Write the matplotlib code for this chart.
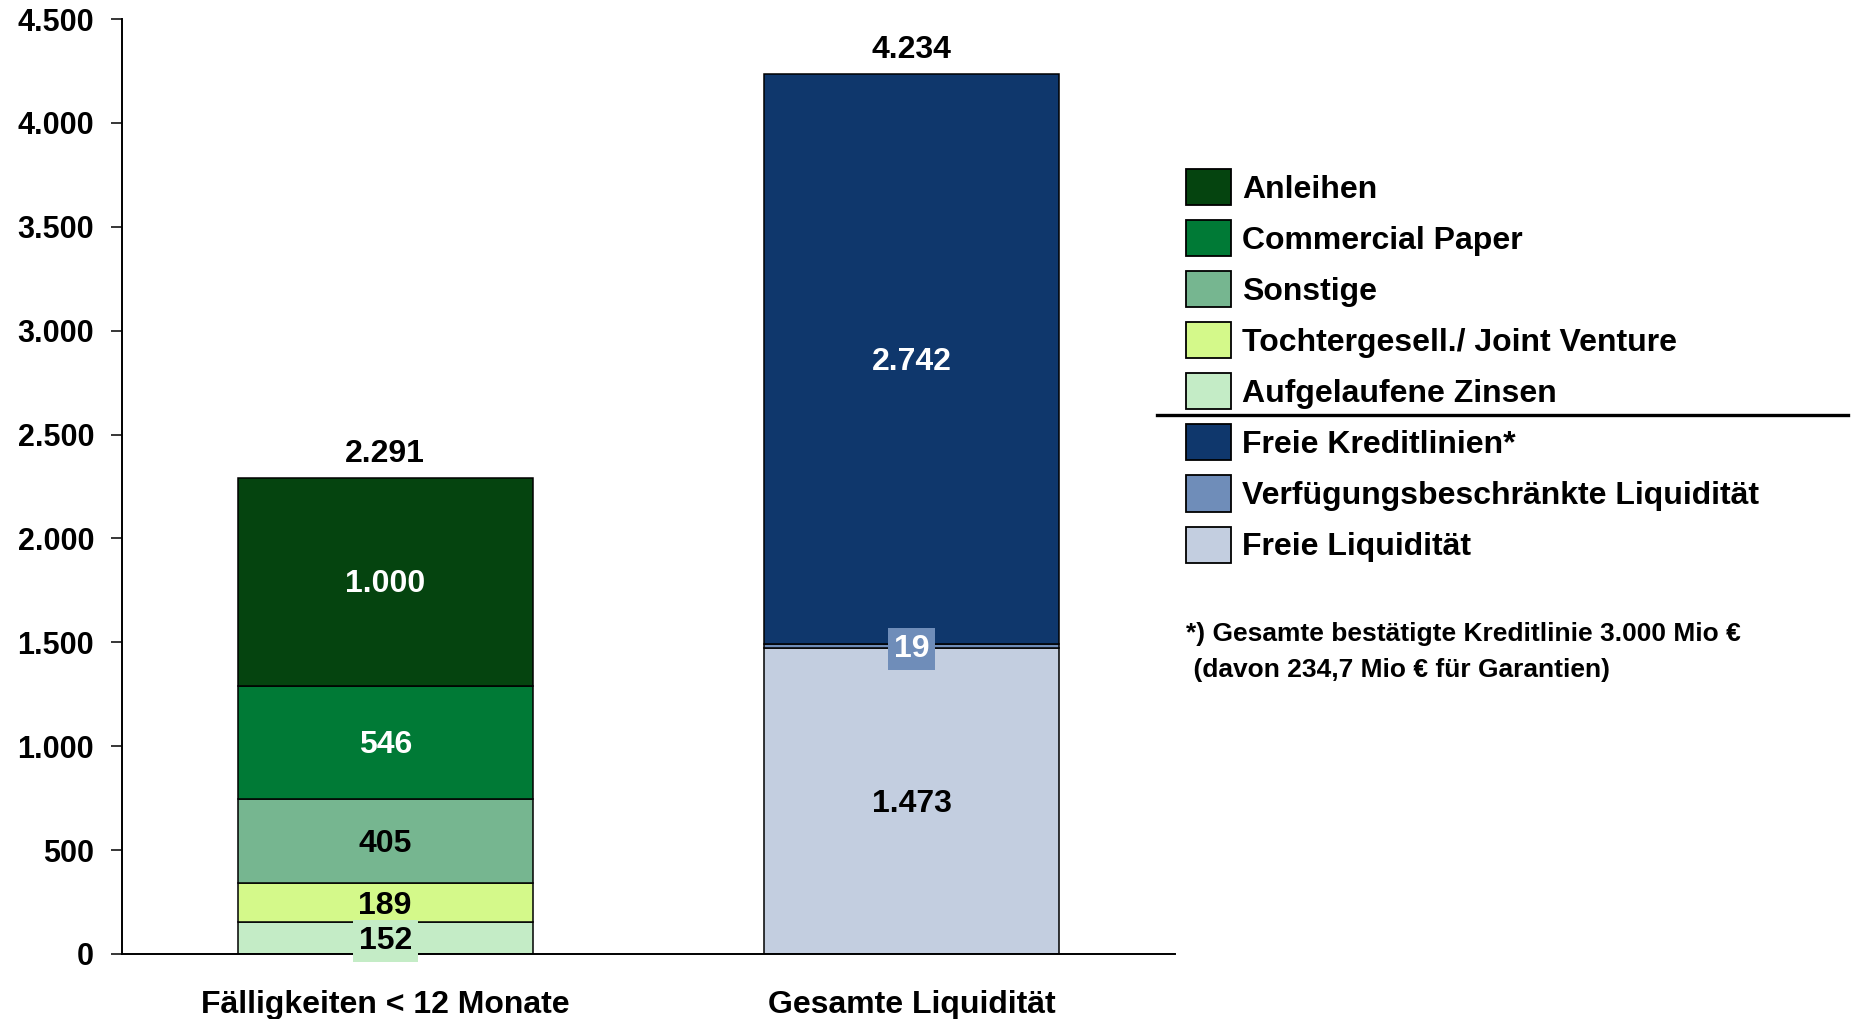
import matplotlib.pyplot as plt
from matplotlib.patches import Patch
from matplotlib.lines import Line2D

plt.rcParams['font.family'] = ['Liberation Sans', 'DejaVu Sans']
plt.rcParams['font.weight'] = 'bold'

# Data (Mio €)
categories = ['Fälligkeiten < 12 Monate', 'Gesamte Liquidität']
totals = [2291, 4234]

maturity_labels = ['Aufgelaufene Zinsen', 'Tochtergesell./ Joint Venture', 'Sonstige',
                   'Commercial Paper', 'Anleihen']
maturity_values = [152, 189, 405, 546, 1000]
maturity_colors = ['#c4ecc6', '#d4f98a', '#76b690', '#007a36', '#05440f']
maturity_text = ['black', 'black', 'black', 'white', 'white']

liquidity_labels = ['Freie Liquidität', 'Verfügungsbeschränkte Liquidität', 'Freie Kreditlinien*']
liquidity_values = [1473, 19, 2742]
liquidity_colors = ['#c3cee0', '#6f8db9', '#0f376c']
liquidity_text = ['black', 'white', 'white']

# segments that get a filled label box
boxed = {152, 19}

yticks = [0, 500, 1000, 1500, 2000, 2500, 3000, 3500, 4000, 4500]


def de_fmt(v):
    return f'{v:,}'.replace(',', '.')


fig = plt.figure(figsize=(18.56, 10.19), dpi=100)
ax = fig.add_axes([0.0657, 0.0638, 0.5673, 0.9175])

width = 0.56


def draw_stack(x, values, colors, txtcolors):
    bottom = 0
    for v, c, tc in zip(values, colors, txtcolors):
        ax.bar(x, v, width, bottom=bottom, color=c, edgecolor='black', linewidth=1.1)
        kw = {}
        if v in boxed:
            kw['bbox'] = dict(boxstyle='square,pad=0.18', facecolor=c, edgecolor='none')
        ax.annotate(de_fmt(v), (x, bottom + v / 2), xytext=(0, -2), textcoords='offset points',
                    ha='center', va='center', fontsize=23, color=tc, fontweight='bold', **kw)
        bottom += v


draw_stack(0, maturity_values, maturity_colors, maturity_text)
draw_stack(1, liquidity_values, liquidity_colors, liquidity_text)

for i, t in enumerate(totals):
    ax.annotate(de_fmt(t), (i, t), xytext=(0, 17.5), textcoords='offset points',
                ha='center', va='center', fontsize=23, fontweight='bold')

ax.set_xlim(-0.5, 1.5)
ax.set_ylim(0, 4500)
ax.set_xticks([0, 1])
ax.set_xticklabels(categories, fontsize=23, fontweight='bold')
ax.set_yticks(yticks)
ax.set_yticklabels([de_fmt(v) for v in yticks], fontsize=22, fontweight='bold')
ax.tick_params(axis='x', length=0, pad=26)
ax.tick_params(axis='y', length=8, width=1.1, pad=12)
for s in ['top', 'right']:
    ax.spines[s].set_visible(False)
for s in ['left', 'bottom']:
    ax.spines[s].set_linewidth(1.4)

# legend
handles = []
for lab, c in zip(maturity_labels[::-1] + liquidity_labels[::-1],
                  maturity_colors[::-1] + liquidity_colors[::-1]):
    handles.append(Patch(facecolor=c, edgecolor='black', linewidth=1.3, label=lab))
fig.legend(handles=handles, loc='upper left', bbox_to_anchor=(1186 / 1856, 1 - 169 / 1019),
           frameon=False, borderpad=0, borderaxespad=0,
           handlelength=1.41, handleheight=1.36, handletextpad=0.34, labelspacing=0.47,
           prop={'weight': 'bold', 'size': 23})

fig.add_artist(Line2D([1157 / 1856, 1848 / 1856], [1 - 415 / 1019, 1 - 415 / 1019],
                      color='black', linewidth=2.4))

fig.text(1186 / 1856, 1 - 634 / 1019, '*) Gesamte bestätigte Kreditlinie 3.000 Mio €',
         fontsize=19, fontweight='bold', va='center')
fig.text(1186 / 1856, 1 - 670 / 1019, ' (davon 234,7 Mio € für Garantien)',
         fontsize=19, fontweight='bold', va='center')

fig.savefig('out.png', dpi=100)
